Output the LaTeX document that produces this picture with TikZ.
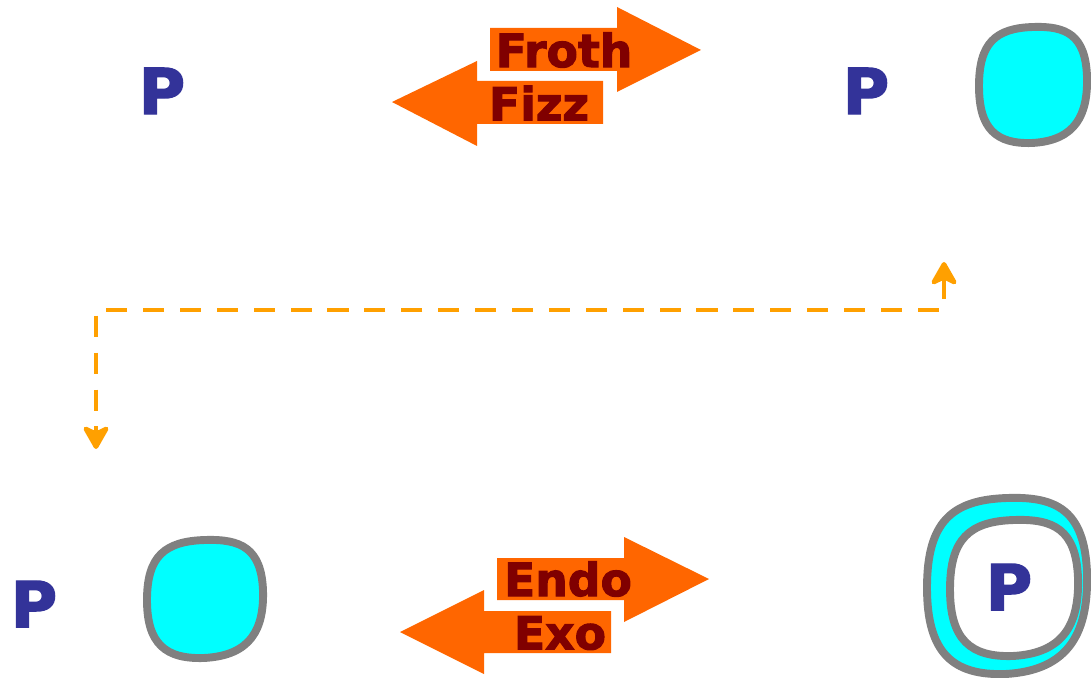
\documentclass[tikz,border=0pt]{standalone}
\usepackage{fontspec}
\setmainfont{DejaVu Sans}
\newfontfamily\heavyfont[FakeBold=2.2]{DejaVu Sans Bold}
\usetikzlibrary{arrows.meta, positioning, calc}
\usepackage{xcolor}
\definecolor{pblue}{RGB}{51,51,153}
\definecolor{redtext}{RGB}{128,0,0}
\definecolor{fatorange}{RGB}{255,102,0}
\definecolor{dashorange}{RGB}{255,160,0}
\definecolor{rimgray}{RGB}{128,128,128}
\definecolor{blobcyan}{RGB}{0,255,255}
% squircle-like blob: style, cx, cy, rx, ry
\newcommand{\sqblob}[5]{%
  \path[#1, shift={(#2,#3)}, xscale=#4, yscale=#5]
    (0,-1) .. controls (0.62,-1.02) and (0.97,-0.86) .. (1,-0.15)
    .. controls (1.02,0.5) and (0.8,0.96) .. (-0.02,1)
    .. controls (-0.68,1.02) and (-1,0.76) .. (-1,0.02)
    .. controls (-1,-0.72) and (-0.7,-0.98) .. (0,-1) -- cycle;}

\begin{document}
\begin{tikzpicture}[
          x=0.02cm, y=-0.02cm,
          letter/.style={font=\heavyfont\fontsize{36}{40}\selectfont, text=pblue, inner sep=0pt},
          tag/.style={font=\heavyfont\fontsize{26}{30}\selectfont, text=redtext, inner sep=0pt},
          fat/.style={fill=fatorange},
          rim/.style={draw=rimgray, line width=4.5pt, line join=round},
          dasharr/.style={{Stealth[length=0.55cm, width=0.62cm, inset=0.15cm, round]}-{Stealth[length=0.55cm, width=0.62cm, inset=0.15cm, round]},
                          draw=dashorange, line width=2.6pt, dash pattern=on 12pt off 9pt}
        ]
        \useasboundingbox (0,0) rectangle (1091,678);
        % top row
        \node[letter] (p1) at (162,91) {P};
        \node[letter] (p2) at (866,91) {P};
        \sqblob{rim, fill=blobcyan}{1033}{85}{54}{58}
        \fill[fat] (490,28) -- (617,28) -- (617,7) -- (701,50) -- (617,92) -- (617,71) -- (490,71) -- cycle;
        \fill[fat] (603,81) -- (477,81) -- (477,61) -- (392,102) -- (477,146) -- (477,124) -- (603,124) -- cycle;
        \node[tag] (froth) at (564,50) {Froth};
        \node[tag] (fizz) at (539,103) {Fizz};
        % dashed link
        \coordinate (up) at (944,262);
        \coordinate (down) at (96,449);
        \draw[dasharr] (up) -- ++(0,48) -| (down);
        % bottom row
        \node[letter] (p3) at (34,604) {P};
        \sqblob{rim, fill=blobcyan}{205}{599}{58}{59}
        \fill[fat] (497,558) -- (624,558) -- (624,537) -- (709,579) -- (624,622) -- (624,600) -- (497,600) -- cycle;
        \fill[fat] (611,611) -- (484,611) -- (484,590) -- (400,632) -- (484,674) -- (484,653) -- (611,653) -- cycle;
        \node[tag] (endo) at (568,579) {Endo};
        \node[tag] (exo) at (560,633) {Exo};
        \sqblob{rim, fill=blobcyan}{1007}{586}{80}{88}
        \sqblob{rim, fill=white}{1014}{588}{64}{68}
        \node[letter] (p4) at (1009,587) {P};
      \end{tikzpicture}
\end{document}
